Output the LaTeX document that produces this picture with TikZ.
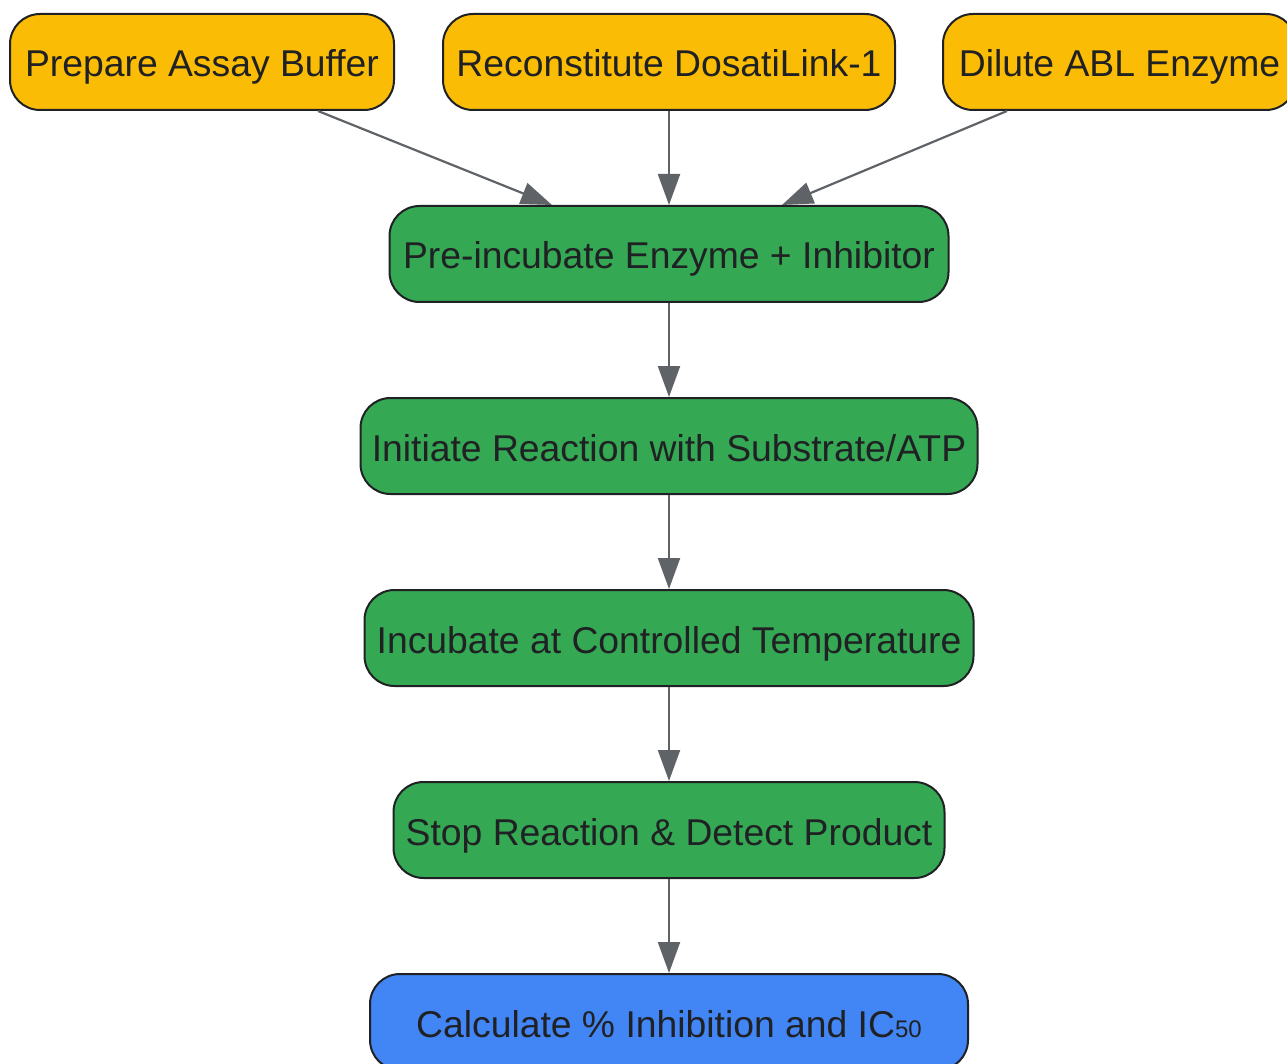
\documentclass[tikz,border=0pt]{standalone}
\usepackage{fontspec}
\setmainfont{Liberation Sans}
\usetikzlibrary{arrows.meta}
\definecolor{yel}{HTML}{FBBC05}
\definecolor{grn}{HTML}{34A853}
\definecolor{blu}{HTML}{4285F4}
\definecolor{edge}{HTML}{202124}
\definecolor{arrc}{HTML}{5F6368}
\tikzset{
  box/.style={draw=edge, line width=2pt, rounded corners=30pt, minimum height=96pt,
    inner sep=0pt, text height=38pt, text depth=8pt, text=edge, font=\fontsize{37.3}{44}\selectfont},
  ybox/.style={box, fill=yel},
  gbox/.style={box, fill=grn},
  bbox/.style={box, fill=blu},
  arr/.style={draw=arrc, line width=2.2pt, -{Triangle[length=31pt,width=22pt]}}
}
\begin{document}
\begin{tikzpicture}[x=1pt,y=-1pt]
\useasboundingbox (0,0) rectangle (1287,1064);
\node[ybox, minimum width=384pt] (prep) at (202,62) {Prepare Assay Buffer};
\node[ybox, minimum width=452pt] (recon) at (669,62) {Reconstitute DosatiLink-1};
\node[ybox, minimum width=353pt] (dil) at (1119.5,62) {Dilute ABL Enzyme};
\node[gbox, minimum width=559pt] (pre) at (669,254) {Pre-incubate Enzyme + Inhibitor};
\node[gbox, minimum width=617pt] (init) at (669,446) {Initiate Reaction with Substrate/ATP};
\node[gbox, minimum width=609pt] (inc) at (669,638) {Incubate at Controlled Temperature};
\node[gbox, minimum width=551pt] (stop) at (669,830) {Stop Reaction \& Detect Product};
\node[bbox, minimum width=598pt] (calc) at (669,1022) {Calculate \% Inhibition and IC{\fontsize{24}{24}\selectfont 50}};
\draw[arr] ([xshift=116pt]prep.south) -- ([xshift=-117pt]pre.north);
\draw[arr] (recon.south) -- (pre.north);
\draw[arr] ([xshift=-112.5pt]dil.south) -- ([xshift=113pt]pre.north);
\draw[arr] (pre) -- (init);
\draw[arr] (init) -- (inc);
\draw[arr] (inc) -- (stop);
\draw[arr] (stop) -- (calc);
\end{tikzpicture}
\end{document}
